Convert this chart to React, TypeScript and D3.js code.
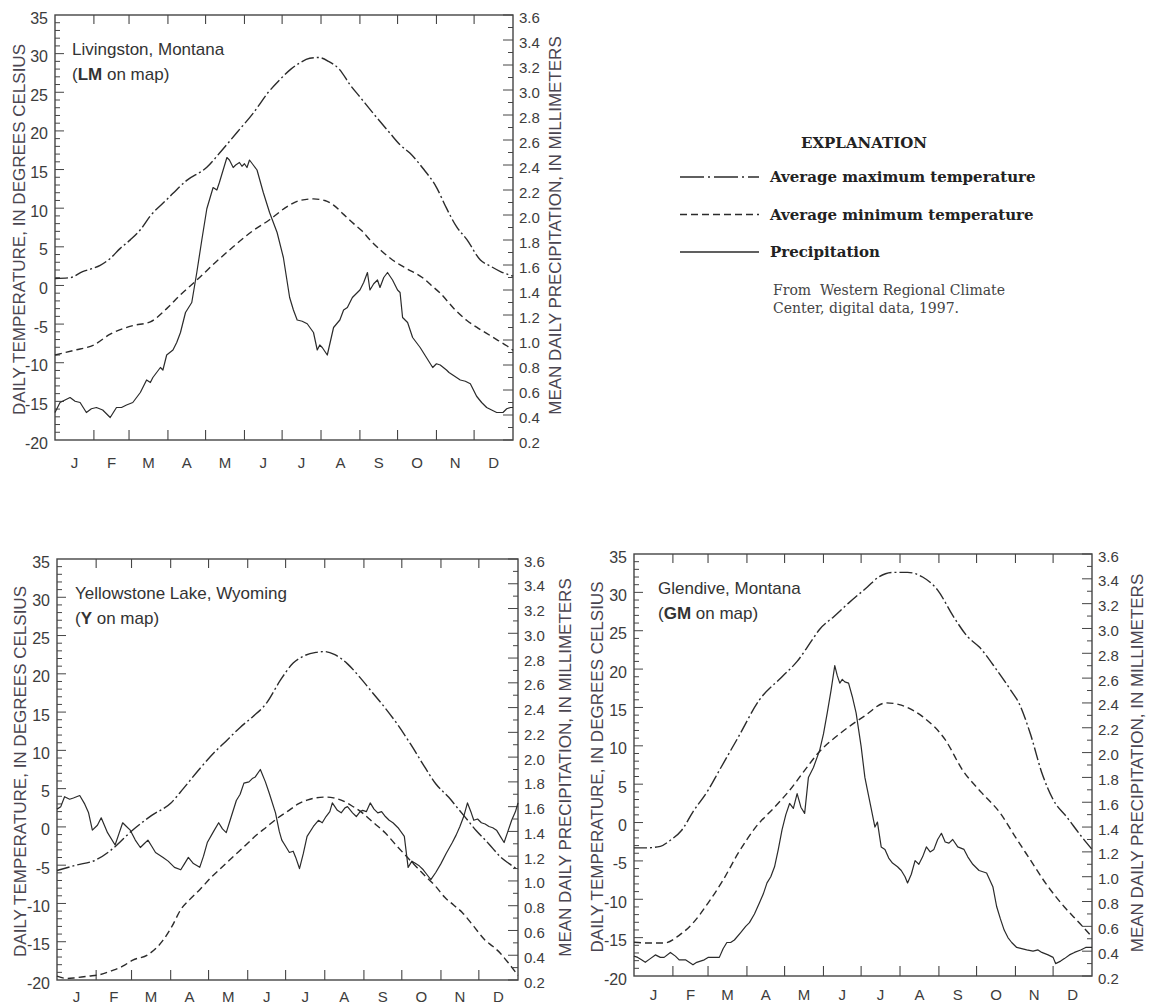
import React from "react";
import * as d3 from "d3";

type Pt = [number, number];

// ---------- shared axis definitions ----------
const MONTHS = ["J", "F", "M", "A", "M", "J", "J", "A", "S", "O", "N", "D"];
const MONTH_LENGTHS = [31, 28, 31, 30, 31, 30, 31, 31, 30, 31, 30, 31];
const TEMP_TICKS = [35, 30, 25, 20, 15, 10, 5, 0, -5, -10, -15, -20];
const PRECIP_TICKS = ["3.6", "3.4", "3.2", "3.0", "2.8", "2.6", "2.4", "2.2", "2.0", "1.8", "1.6", "1.4", "1.2", "1.0", "0.8", "0.6", "0.4", "0.2"];
const TEMP_DOMAIN: [number, number] = [-20, 35];
const PRECIP_DOMAIN: [number, number] = [0.2, 3.6];

// ---------- Livingston, Montana ----------
const lmMaxTemp: Pt[] = [[0,0.9],[12,1.0],[22,1.8],[30,2.2],[36,2.6],[44,3.5],[52,4.8],[60,5.9],[68,7.2],[76,9.0],[89,11.1],[105,13.6],[121,15.3],[131,17.1],[145,19.8],[158,22.3],[170,25.0],[179,26.6],[188,28.0],[195,28.8],[203,29.4],[210,29.5],[218,29.0],[227,27.9],[235,26.0],[243,24.4],[255,22.0],[267,19.7],[275,18.2],[283,17.1],[293,15.2],[304,12.7],[312,10.0],[320,7.6],[328,6.0],[339,3.3],[347,2.5],[355,1.8],[365,1.2]];
const lmMinTemp: Pt[] = [[0,-9.0],[15,-8.4],[31,-7.7],[44,-6.3],[62,-5.2],[76,-4.7],[89,-3.0],[100,-1.2],[113,0.7],[128,3.0],[142,5.0],[157,7.0],[171,8.5],[185,10.2],[195,11.0],[206,11.2],[215,11.0],[222,10.4],[230,9.2],[238,8.0],[245,7.0],[251,5.9],[260,4.5],[269,3.3],[280,2.2],[293,1.0],[300,0.0],[307,-1.0],[318,-3.0],[328,-4.5],[336,-5.4],[344,-6.2],[352,-7.0],[360,-7.8],[365,-8.4]];
const lmPrecip: Pt[] = [[0,0.42],[4,0.50],[8,0.52],[12,0.54],[16,0.51],[20,0.50],[25,0.42],[29,0.45],[33,0.46],[38,0.44],[41,0.41],[44,0.38],[49,0.46],[53,0.46],[57,0.48],[62,0.50],[68,0.58],[73,0.68],[76,0.66],[78,0.70],[84,0.78],[86,0.76],[89,0.88],[94,0.92],[97,0.98],[100,1.06],[104,1.22],[109,1.30],[113,1.54],[117,1.80],[121,2.05],[126,2.22],[129,2.20],[131,2.26],[134,2.36],[137,2.46],[139,2.44],[142,2.38],[144,2.40],[147,2.42],[149,2.39],[151,2.41],[153,2.38],[155,2.44],[158,2.40],[161,2.36],[166,2.18],[171,2.02],[177,1.86],[182,1.66],[187,1.34],[190,1.24],[193,1.16],[197,1.15],[201,1.13],[206,1.06],[209,0.92],[211,0.96],[213,0.94],[217,0.88],[222,1.10],[227,1.16],[230,1.24],[233,1.26],[237,1.34],[243,1.40],[246,1.46],[249,1.54],[251,1.40],[254,1.45],[257,1.48],[259,1.42],[262,1.50],[265,1.54],[269,1.48],[273,1.40],[275,1.38],[277,1.18],[281,1.14],[285,1.02],[291,0.94],[296,0.86],[301,0.78],[304,0.81],[307,0.80],[312,0.76],[314,0.74],[317,0.72],[323,0.68],[327,0.67],[331,0.65],[336,0.55],[340,0.50],[344,0.46],[348,0.44],[352,0.42],[357,0.42],[360,0.45],[363,0.46],[365,0.46]];

// ---------- Yellowstone Lake, Wyoming ----------
const yMaxTemp: Pt[] = [[0,-5.7],[15,-5.0],[31,-4.3],[43,-3.0],[60,-0.4],[75,1.5],[90,3.1],[100,5.0],[113,7.6],[125,9.8],[135,11.4],[145,13.0],[155,14.4],[166,16.2],[177,19.2],[187,21.4],[195,22.3],[205,22.8],[212,22.9],[220,22.5],[230,21.3],[240,19.5],[250,17.5],[260,15.5],[270,13.3],[280,10.8],[292,7.6],[300,5.6],[310,3.9],[318,2.3],[325,0.9],[332,-0.5],[339,-1.7],[345,-2.8],[351,-3.9],[358,-4.8],[365,-5.6]];
const yMinTemp: Pt[] = [[0,-19.5],[8,-19.8],[15,-19.7],[25,-19.5],[34,-19.3],[43,-18.8],[52,-18.2],[60,-17.4],[72,-16.7],[84,-14.8],[91,-13.0],[98,-10.8],[105,-9.5],[113,-8.2],[122,-6.6],[131,-5.2],[140,-3.8],[148,-2.6],[157,-1.2],[166,0.0],[175,1.2],[184,2.2],[191,3.0],[198,3.5],[205,3.8],[213,3.9],[219,3.8],[225,3.5],[233,2.8],[242,1.8],[251,0.5],[260,-0.8],[268,-2.3],[277,-3.9],[285,-5.3],[292,-6.5],[300,-7.8],[307,-9.2],[314,-10.2],[321,-11.2],[330,-13.0],[339,-14.8],[345,-15.6],[351,-16.5],[358,-17.9],[365,-19.4]];
const yPrecip: Pt[] = [[0,1.58],[3,1.60],[6,1.68],[10,1.66],[13,1.67],[18,1.69],[22,1.62],[25,1.55],[28,1.41],[32,1.45],[35,1.51],[40,1.39],[46,1.29],[49,1.38],[52,1.47],[55,1.44],[58,1.41],[62,1.33],[66,1.27],[69,1.30],[72,1.33],[75,1.28],[78,1.23],[84,1.19],[88,1.16],[93,1.11],[98,1.09],[101,1.14],[104,1.19],[108,1.14],[113,1.11],[116,1.20],[119,1.31],[124,1.40],[128,1.47],[131,1.42],[134,1.39],[138,1.52],[142,1.65],[145,1.70],[148,1.79],[152,1.80],[155,1.83],[157,1.84],[161,1.90],[165,1.80],[168,1.71],[173,1.55],[176,1.40],[178,1.33],[181,1.28],[184,1.23],[187,1.24],[189,1.19],[192,1.10],[195,1.22],[198,1.36],[203,1.44],[207,1.49],[210,1.47],[213,1.52],[216,1.56],[218,1.63],[222,1.57],[225,1.55],[228,1.59],[230,1.60],[234,1.55],[237,1.52],[240,1.56],[242,1.57],[245,1.56],[248,1.63],[251,1.58],[254,1.55],[257,1.56],[260,1.52],[263,1.49],[266,1.47],[270,1.43],[275,1.36],[278,1.11],[281,1.16],[284,1.14],[287,1.12],[290,1.09],[293,1.05],[296,1.01],[300,1.07],[304,1.14],[308,1.22],[313,1.31],[316,1.37],[319,1.44],[322,1.52],[325,1.63],[328,1.55],[330,1.49],[333,1.50],[336,1.47],[339,1.46],[342,1.44],[345,1.43],[348,1.41],[351,1.36],[354,1.31],[357,1.40],[360,1.49],[363,1.56],[365,1.63]];

// ---------- Glendive, Montana ----------
const gmMaxTemp: Pt[] = [[0,-3.3],[10,-3.3],[21,-3.1],[29,-2.3],[38,-1.0],[47,1.4],[59,4.2],[68,6.8],[83,11.1],[100,16.0],[118,19.0],[130,21.0],[142,23.8],[148,25.2],[159,26.8],[171,28.6],[186,30.7],[195,32.0],[206,32.6],[218,32.6],[230,32.0],[242,30.3],[254,27.0],[266,24.2],[275,22.9],[289,19.9],[300,17.3],[307,15.5],[316,11.5],[325,6.5],[334,3.0],[345,0.7],[357,-1.9],[365,-3.5]];
const gmMinTemp: Pt[] = [[0,-15.6],[12,-15.7],[24,-15.7],[36,-14.7],[47,-13.1],[59,-10.5],[71,-7.5],[83,-4.0],[97,-0.6],[112,2.0],[124,4.2],[136,6.8],[147,9.1],[165,11.7],[183,13.8],[201,15.6],[213,15.3],[230,13.8],[248,10.8],[262,6.8],[277,3.9],[292,1.2],[304,-1.9],[316,-4.9],[328,-7.9],[343,-11.0],[355,-13.1],[365,-14.9]];
const gmPrecip: Pt[] = [[0,0.36],[3,0.35],[6,0.33],[9,0.31],[13,0.34],[17,0.37],[21,0.35],[24,0.35],[29,0.39],[33,0.36],[36,0.33],[41,0.33],[44,0.31],[47,0.29],[50,0.31],[56,0.33],[59,0.35],[64,0.35],[68,0.35],[71,0.42],[74,0.47],[77,0.47],[80,0.49],[85,0.55],[89,0.60],[92,0.63],[96,0.70],[100,0.79],[103,0.86],[106,0.95],[109,1.00],[112,1.08],[115,1.22],[118,1.38],[121,1.50],[124,1.59],[127,1.55],[130,1.67],[133,1.56],[136,1.51],[139,1.80],[143,1.88],[148,2.02],[151,2.15],[154,2.32],[157,2.50],[160,2.70],[162,2.62],[164,2.56],[166,2.59],[168,2.57],[171,2.56],[174,2.45],[177,2.32],[181,2.05],[184,1.80],[186,1.70],[189,1.55],[192,1.40],[194,1.44],[197,1.24],[200,1.22],[203,1.15],[206,1.11],[210,1.08],[213,1.05],[216,1.00],[218,0.95],[221,1.02],[224,1.13],[227,1.10],[230,1.16],[233,1.24],[236,1.20],[239,1.22],[242,1.30],[245,1.35],[248,1.28],[251,1.27],[254,1.30],[258,1.24],[263,1.22],[266,1.16],[270,1.10],[275,1.05],[281,1.03],[286,0.92],[289,0.76],[292,0.66],[295,0.57],[298,0.51],[301,0.47],[305,0.43],[309,0.42],[313,0.41],[318,0.40],[322,0.41],[325,0.39],[330,0.37],[334,0.35],[336,0.30],[340,0.32],[343,0.34],[347,0.37],[351,0.39],[356,0.41],[360,0.43],[365,0.43]];

// ---------- layout (pixels) ----------
const PANELS = [
  { left: 55, top: 15, right: 513, bottom: 440, monthDy: 22, name: "Livingston, Montana", code: "LM", nameDx: 17, leftTitleX: 19, rightTitleX: 555, max: lmMaxTemp, min: lmMinTemp, precip: lmPrecip },
  { left: 57, top: 559, right: 518, bottom: 980, monthDy: 16, name: "Yellowstone Lake, Wyoming", code: "Y", nameDx: 18, leftTitleX: 20, rightTitleX: 565, max: yMaxTemp, min: yMinTemp, precip: yPrecip },
  { left: 634, top: 554, right: 1092, bottom: 976, monthDy: 18, name: "Glendive, Montana", code: "GM", nameDx: 24, leftTitleX: 597, rightTitleX: 1137, max: gmMaxTemp, min: gmMinTemp, precip: gmPrecip },
];

const INK = "#2b2b2b";
const AXIS = "#454545";
const LABEL = "#3c3c3c";
const SANS = "'Liberation Sans', Arial, Helvetica, sans-serif";
const SERIF = "'DejaVu Serif', 'Liberation Serif', serif";
const MAX_DASH = "13,3,2,3";
const MIN_DASH = "7,4";

function Panel({ p }: { p: (typeof PANELS)[number] }) {
  const x = d3.scaleLinear().domain([0, 365]).range([p.left, p.right]);
  const yT = d3.scaleLinear().domain(TEMP_DOMAIN).range([p.bottom, p.top]);
  const yP = d3.scaleLinear().domain(PRECIP_DOMAIN).range([p.bottom, p.top]);
  const tLine = d3.line<Pt>().x((d) => x(d[0])).y((d) => yT(d[1])).curve(d3.curveMonotoneX);
  const pLine = d3.line<Pt>().x((d) => x(d[0])).y((d) => yP(d[1]));
  const bounds = Array.from(d3.cumsum(MONTH_LENGTHS));
  const starts = [0, ...bounds.slice(0, 11)];
  const tempMinor = d3.range(-19, 35);
  const precipMinor = d3.range(3, 36, 2).map((v) => v / 10);
  const midY = (p.top + p.bottom) / 2;

  return (
    <g>
      {/* frame */}
      <rect x={p.left} y={p.top} width={p.right - p.left} height={p.bottom - p.top} fill="none" stroke={AXIS} strokeWidth={1.4} />
      {/* month ticks */}
      {bounds.slice(0, 11).map((b, i) => (
        <g key={"m" + i}>
          <line x1={x(b)} x2={x(b)} y1={p.bottom} y2={p.bottom - 10} stroke={AXIS} strokeWidth={1.1} />
          <line x1={x(b)} x2={x(b)} y1={p.top} y2={p.top + 9} stroke={AXIS} strokeWidth={1.1} />
        </g>
      ))}
      {MONTHS.map((m, i) => (
        <text key={"ml" + i} x={x((starts[i] + bounds[i]) / 2)} y={p.bottom + p.monthDy} textAnchor="middle" dominantBaseline="central" fontFamily={SANS} fontSize={15} fill={LABEL}>{m}</text>
      ))}
      {/* temperature axis */}
      {tempMinor.map((v) => (
        <line key={"tm" + v} x1={p.left} x2={p.left + (v % 5 === 0 ? 9 : 5)} y1={yT(v)} y2={yT(v)} stroke={AXIS} strokeWidth={1} />
      ))}
      {TEMP_TICKS.map((v) => (
        <text key={"tl" + v} x={p.left - 7} y={yT(v) + 3} textAnchor="end" dominantBaseline="central" fontFamily={SANS} fontSize={16} fill={LABEL}>{v}</text>
      ))}
      {/* precipitation axis */}
      {PRECIP_TICKS.map((s) => (
        <g key={"pl" + s}>
          <line x1={p.right} x2={p.right - 10} y1={yP(+s)} y2={yP(+s)} stroke={AXIS} strokeWidth={1} />
          <text x={p.right + 6} y={yP(+s) + 2} dominantBaseline="central" fontFamily={SANS} fontSize={15} fill={LABEL}>{s}</text>
        </g>
      ))}
      {precipMinor.map((v) => (
        <line key={"pm" + v} x1={p.right} x2={p.right - 5} y1={yP(v)} y2={yP(v)} stroke={AXIS} strokeWidth={1} />
      ))}
      {/* axis titles */}
      <text transform={`translate(${p.leftTitleX},${midY + 2}) rotate(-90)`} textAnchor="middle" dominantBaseline="central" fontFamily={SANS} fontSize={17} fill="#4a4550">DAILY TEMPERATURE, IN DEGREES CELSIUS</text>
      <text transform={`translate(${p.rightTitleX},${midY - 2}) rotate(-90)`} textAnchor="middle" dominantBaseline="central" fontFamily={SANS} fontSize={17} fill="#4a4550">MEAN DAILY PRECIPITATION, IN MILLIMETERS</text>
      {/* station name */}
      <text x={p.left + p.nameDx} y={p.top + 40} fontFamily={SANS} fontSize={17} fill="#333">{p.name}</text>
      <text x={p.left + p.nameDx} y={p.top + 65} fontFamily={SANS} fontSize={17} fill="#333">
        (<tspan fontWeight="bold">{p.code}</tspan> on map)
      </text>
      {/* series */}
      <path d={tLine(p.max) ?? ""} fill="none" stroke={INK} strokeWidth={1.4} strokeDasharray={MAX_DASH} />
      <path d={tLine(p.min) ?? ""} fill="none" stroke={INK} strokeWidth={1.4} strokeDasharray={MIN_DASH} />
      <path d={pLine(p.precip) ?? ""} fill="none" stroke={INK} strokeWidth={1.2} strokeLinejoin="round" />
    </g>
  );
}

const LEGEND_ITEMS = [
  { label: "Average maximum temperature", dash: "24,4,2,4" },
  { label: "Average minimum temperature", dash: "7,4" },
  { label: "Precipitation", dash: "" },
];
const SOURCE_LINES = ["From  Western Regional Climate", "Center, digital data, 1997."];

function Legend() {
  const rows = d3.scalePoint<number>().domain([0, 1, 2]).range([177, 252]);
  return (
    <g>
      <text x={864} y={148} textAnchor="middle" fontFamily={SERIF} fontWeight="bold" fontSize={15} fill="#222">EXPLANATION</text>
      {LEGEND_ITEMS.map((it, i) => (
        <g key={it.label}>
          <line x1={680} x2={759} y1={rows(i)!} y2={rows(i)!} stroke={INK} strokeWidth={1.6} strokeDasharray={it.dash || undefined} />
          <text x={770} y={rows(i)! + 5} fontFamily={SERIF} fontWeight="bold" fontSize={15} fill="#222">{it.label}</text>
        </g>
      ))}
      {SOURCE_LINES.map((s, i) => (
        <text key={s} x={773} y={295 + i * 18} fontFamily={SERIF} fontSize={14} fill="#444" xmlSpace="preserve">{s}</text>
      ))}
    </g>
  );
}

export default function App() {
  return (
    <svg width={1157} height={1006} viewBox="0 0 1157 1006" style={{ position: "absolute", left: 0, top: 0, background: "#fff" }}>
      <rect width={1157} height={1006} fill="#fff" />
      {PANELS.map((p) => (
        <Panel key={p.name} p={p} />
      ))}
      <Legend />
    </svg>
  );
}
